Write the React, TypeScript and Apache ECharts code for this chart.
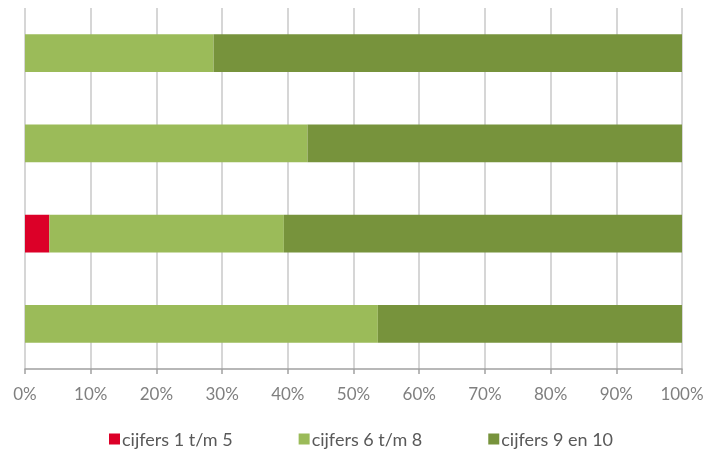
import React, { useEffect, useRef } from "react";
import * as echarts from "echarts";

// Four groups, listed bottom to top as the category axis draws them
const groups = ["groep 4", "groep 3", "groep 2", "groep 1"];
const low = [0, 3.7, 0, 0]; // cijfers 1 t/m 5
const mid = [53.7, 35.7, 43.0, 28.7]; // cijfers 6 t/m 8
const high = [46.3, 60.6, 57.0, 71.3]; // cijfers 9 en 10
const seriesNames = ["cijfers 1 t/m 5", "cijfers 6 t/m 8", "cijfers 9 en 10"];
const seriesColors = ["#DC0028", "#9BBB59", "#77933C"];

export default function App() {
  const ref = useRef<HTMLDivElement>(null);

  useEffect(() => {
    if (!ref.current) return;
    const chart = echarts.init(ref.current, null, { renderer: "svg" });
    const values = [low, mid, high];
    chart.setOption({
      animation: false,
      textStyle: { fontFamily: "Lato" },
      grid: { left: 25, right: 40, top: 8, bottom: 85, containLabel: false },
      legend: {
        top: 426,
        left: "center",
        itemWidth: 11,
        itemHeight: 11,
        itemGap: 66,
        icon: "rect",
        padding: 4,
        textStyle: { color: "#595959", fontSize: 18, fontFamily: "Lato", padding: [0, 0, 0, -3] },
        data: seriesNames,
      },
      xAxis: {
        type: "value",
        min: 0,
        max: 100,
        interval: 10,
        axisLabel: {
          formatter: "{value}%",
          color: "#7f7f7f",
          fontSize: 17,
          margin: 16,
          fontFamily: "Lato",
        },
        axisLine: { show: true, lineStyle: { color: "#a0a0a0", width: 1.5 } },
        axisTick: { show: true, length: 5, lineStyle: { color: "#a0a0a0", width: 1.5 } },
        splitLine: { show: true, lineStyle: { color: "#c8c8c8", width: 1.5 } },
      },
      yAxis: {
        type: "category",
        data: groups,
        axisLabel: { show: false },
        axisLine: { show: false },
        axisTick: { show: false },
        splitLine: { show: false },
      },
      series: seriesNames.map((name, i) => ({
        name,
        type: "bar",
        stack: "totaal",
        barCategoryGap: "58%",
        itemStyle: { color: seriesColors[i] },
        data: values[i],
      })),
    });
    return () => chart.dispose();
  }, []);

  return (
    <div
      ref={ref}
      style={{ position: "fixed", left: 0, top: 0, width: 722, height: 454 }}
    />
  );
}
